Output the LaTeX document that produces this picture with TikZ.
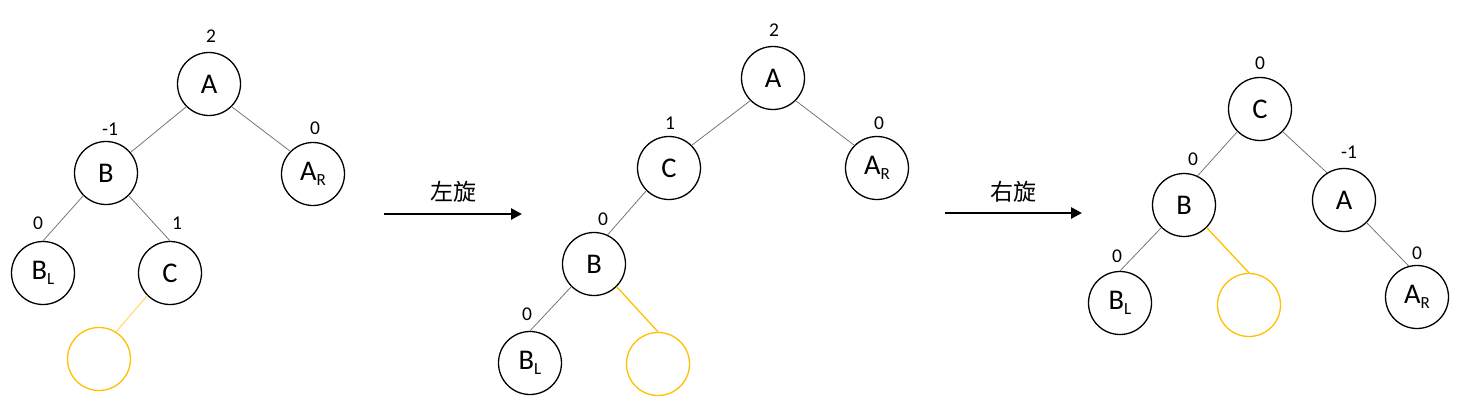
\documentclass[tikz,border=0pt]{standalone}
\usepackage{fontspec}
\setmainfont{Carlito}
\newfontfamily\cjk{Noto Sans CJK SC}
\usetikzlibrary{arrows.meta}
\definecolor{gold}{HTML}{FFC000}
\definecolor{palegold}{HTML}{FFDB70}
\definecolor{edgegray}{HTML}{707070}
\newcommand\subtx[1]{\raisebox{-5pt}{\fontsize{17}{17}\selectfont #1}}
\tikzset{
  tn/.style={circle,draw=black,line width=1.3pt,minimum size=63pt,inner sep=0pt,font=\fontsize{28.5}{32}\selectfont},
  yn/.style={tn,draw=gold},
  bal/.style={font=\fontsize{19.5}{22}\selectfont,inner sep=0pt},
  treeedge/.style={draw=edgegray,line width=0.75pt},
  yedge/.style={draw=gold,line width=1.3pt},
  rotarrow/.style={line width=2.6pt,-{Triangle[length=11pt,width=11pt]}},
  rotlabel/.style={font=\cjk\fontsize{23}{26}\selectfont,inner sep=0pt}
}
\begin{document}
\begin{tikzpicture}[x=1pt,y=-1pt]
\useasboundingbox (0,0) rectangle (1460,407);
% ---------- tree 1 ----------
\node[tn] (a1) at (209,84) {A};
\node[tn] (b1) at (106,173) {B};
\node[tn] (ar1) at (313,174) {A\subtx{R}};
\node[tn] (bl1) at (43,273) {B\subtx{L}};
\node[tn] (c1) at (170,273) {C};
\node[yn] (y1) at (99,359) {};
\node[bal] (l1a) at (211,36) {2};
\node[bal] (l1b) at (110,129) {-1};
\node[bal] (l1ar) at (315,128) {0};
\node[bal] (l1bl) at (38,223) {0};
\node[bal] (l1c) at (177,223) {1};
\draw[treeedge] (a1.south west) -- (b1.40);
\draw[treeedge] (a1.south east) -- (ar1.north west);
\draw[treeedge] (b1.south west) -- (bl1.north);
\draw[treeedge] (b1.south east) -- (c1.north);
\draw[draw=palegold,line width=1.1pt] (c1.south west) -- (y1.58);
% ---------- arrow 1 ----------
\coordinate (s1) at (384,214);
\coordinate (e1) at (522,214);
\draw[rotarrow] (s1) -- (e1);
\node[rotlabel] (t1) at (453,192) {左旋};
% ---------- tree 2 ----------
\node[tn] (a2) at (773,78) {A};
\node[tn] (c2) at (669,168) {C};
\node[tn] (ar2) at (877,168) {A\subtx{R}};
\node[tn] (b2) at (594,264) {B};
\node[tn] (bl2) at (530,363) {B\subtx{L}};
\node[yn] (y2) at (658,364) {};
\node[bal] (l2a) at (774,30) {2};
\node[bal] (l2c) at (670,123) {1};
\node[bal] (l2ar) at (879,123) {0};
\node[bal] (l2b) at (603,219) {0};
\node[bal] (l2bl) at (527,314) {0};
\draw[treeedge] (a2.south west) -- (c2.north east);
\draw[treeedge] (a2.south east) -- (ar2.north west);
\draw[treeedge] (c2.south west) -- (b2.65);
\draw[treeedge] (b2.south west) -- (bl2.north);
\draw[yedge] (b2.south east) -- (y2.north);
% ---------- arrow 2 ----------
\coordinate (s2) at (945,213);
\coordinate (e2) at (1082,213);
\draw[rotarrow] (s2) -- (e2);
\node[rotlabel] (t2) at (1013,192) {右旋};
% ---------- tree 3 ----------
\node[tn] (c3) at (1260,109) {C};
\node[tn] (b3) at (1184,205) {B};
\node[tn] (a3) at (1344,200) {A};
\node[tn] (bl3) at (1120,303) {B\subtx{L}};
\node[yn] (y3) at (1249,305) {};
\node[tn] (ar3) at (1417,297) {A\subtx{R}};
\node[bal] (l3c) at (1260,63) {0};
\node[bal] (l3b) at (1193,159) {0};
\node[bal] (l3a) at (1349,152) {-1};
\node[bal] (l3bl) at (1117,256) {0};
\node[bal] (l3ar) at (1417,253) {0};
\draw[treeedge] (c3.south west) -- (b3.65);
\draw[treeedge] (c3.south east) -- (a3.122);
\draw[treeedge] (b3.south west) -- (bl3.north);
\draw[yedge] (b3.south east) -- (y3.north);
\draw[treeedge] (a3.south east) -- (ar3.105);
\end{tikzpicture}
\end{document}
